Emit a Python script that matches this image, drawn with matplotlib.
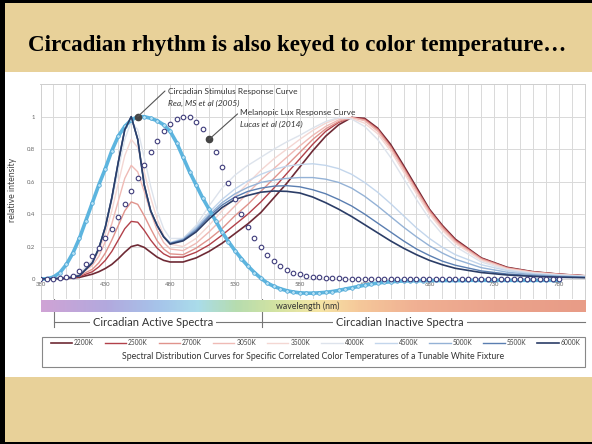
import numpy as np
import matplotlib
matplotlib.use("Agg")
import matplotlib.pyplot as plt
from matplotlib.colors import LinearSegmentedColormap
from matplotlib.patches import Rectangle

plt.rcParams['font.family'] = ['Lato', 'DejaVu Sans']

# wavelength grid (nm) for the tunable white SPD curves
wl = [380, 400, 410, 420, 425, 430, 435, 440, 445, 450, 455, 460, 465, 470, 475, 480,
      490, 500, 510, 520, 530, 540, 550, 560, 570, 580, 590, 600, 610, 620, 630, 640,
      650, 660, 670, 680, 690, 700, 720, 740, 760, 780, 800]

cct_labels = ["2200K", "2500K", "2700K", "3050K", "3500K",
              "4000K", "4500K", "5000K", "5500K", "6000K"]

spd_2200 = [0, 0.003, 0.01, 0.03, 0.045, 0.065, 0.09, 0.125, 0.165, 0.20, 0.21, 0.195, 0.165, 0.135, 0.115, 0.105,
            0.105, 0.13, 0.17, 0.22, 0.28, 0.34, 0.41, 0.50, 0.59, 0.69, 0.79, 0.88, 0.95, 0.995, 0.99, 0.93,
            0.83, 0.70, 0.565, 0.43, 0.33, 0.245, 0.13, 0.072, 0.045, 0.03, 0.02]
spd_2500 = [0, 0.004, 0.015, 0.045, 0.075, 0.115, 0.17, 0.24, 0.31, 0.355, 0.35, 0.30, 0.24, 0.19, 0.155, 0.135,
            0.135, 0.165, 0.21, 0.27, 0.335, 0.40, 0.475, 0.56, 0.65, 0.74, 0.83, 0.91, 0.965, 0.995, 0.985, 0.925,
            0.82, 0.69, 0.555, 0.425, 0.325, 0.24, 0.128, 0.07, 0.044, 0.03, 0.02]
spd_2700 = [0, 0.005, 0.02, 0.06, 0.10, 0.16, 0.24, 0.33, 0.42, 0.475, 0.46, 0.39, 0.31, 0.235, 0.185, 0.155,
            0.15, 0.19, 0.245, 0.31, 0.39, 0.46, 0.54, 0.62, 0.70, 0.78, 0.86, 0.925, 0.97, 0.995, 0.98, 0.92,
            0.815, 0.685, 0.55, 0.42, 0.32, 0.235, 0.125, 0.068, 0.043, 0.029, 0.019]
spd_3050 = [0, 0.006, 0.025, 0.085, 0.14, 0.23, 0.34, 0.48, 0.62, 0.70, 0.66, 0.54, 0.41, 0.30, 0.225, 0.185,
            0.175, 0.22, 0.29, 0.37, 0.45, 0.53, 0.61, 0.68, 0.75, 0.82, 0.885, 0.94, 0.98, 0.995, 0.975, 0.91,
            0.805, 0.675, 0.54, 0.41, 0.31, 0.228, 0.12, 0.065, 0.041, 0.028, 0.019]
spd_3500 = [0, 0.007, 0.03, 0.10, 0.17, 0.28, 0.42, 0.59, 0.76, 0.86, 0.81, 0.66, 0.50, 0.37, 0.27, 0.215,
            0.20, 0.25, 0.33, 0.42, 0.51, 0.59, 0.67, 0.74, 0.80, 0.86, 0.915, 0.96, 0.99, 0.99, 0.96, 0.895,
            0.79, 0.66, 0.525, 0.40, 0.30, 0.22, 0.115, 0.062, 0.039, 0.027, 0.018]
spd_4000 = [0, 0.008, 0.035, 0.115, 0.195, 0.32, 0.48, 0.67, 0.86, 0.97, 0.92, 0.75, 0.57, 0.42, 0.31, 0.25,
            0.25, 0.33, 0.45, 0.56, 0.64, 0.70, 0.75, 0.80, 0.845, 0.885, 0.93, 0.97, 0.995, 0.985, 0.94, 0.86,
            0.75, 0.62, 0.49, 0.37, 0.275, 0.20, 0.105, 0.057, 0.036, 0.025, 0.017]
spd_4500 = [0, 0.005, 0.02, 0.10, 0.19, 0.32, 0.50, 0.72, 0.92, 1.0, 0.86, 0.58, 0.42, 0.33, 0.26, 0.225,
            0.25, 0.32, 0.41, 0.49, 0.555, 0.605, 0.645, 0.675, 0.695, 0.705, 0.71, 0.70, 0.68, 0.645, 0.595, 0.535,
            0.465, 0.39, 0.315, 0.25, 0.195, 0.15, 0.088, 0.052, 0.033, 0.022, 0.015]
spd_5000 = [0, 0.005, 0.02, 0.10, 0.19, 0.32, 0.50, 0.72, 0.92, 1.0, 0.86, 0.58, 0.42, 0.33, 0.26, 0.22,
            0.245, 0.31, 0.395, 0.47, 0.525, 0.565, 0.595, 0.61, 0.62, 0.625, 0.625, 0.615, 0.595, 0.56, 0.51, 0.45,
            0.385, 0.32, 0.26, 0.205, 0.16, 0.122, 0.07, 0.042, 0.027, 0.018, 0.012]
spd_5500 = [0, 0.005, 0.02, 0.10, 0.19, 0.32, 0.50, 0.72, 0.92, 1.0, 0.86, 0.58, 0.42, 0.33, 0.26, 0.22,
            0.24, 0.30, 0.385, 0.455, 0.505, 0.54, 0.56, 0.572, 0.575, 0.568, 0.55, 0.525, 0.49, 0.45, 0.40, 0.345,
            0.29, 0.235, 0.185, 0.145, 0.11, 0.085, 0.05, 0.031, 0.02, 0.014, 0.01]
spd_6000 = [0, 0.005, 0.02, 0.10, 0.19, 0.32, 0.50, 0.72, 0.92, 1.0, 0.86, 0.58, 0.42, 0.33, 0.26, 0.215,
            0.235, 0.29, 0.37, 0.44, 0.49, 0.515, 0.535, 0.542, 0.54, 0.53, 0.505, 0.47, 0.43, 0.385, 0.335, 0.285,
            0.235, 0.19, 0.15, 0.115, 0.088, 0.066, 0.04, 0.025, 0.016, 0.011, 0.008]

# response curves, 5 nm steps 380-780
resp_wl = list(range(380, 781, 5))
rea_cs = [0.0, 0.002, 0.012, 0.04, 0.09, 0.16, 0.25, 0.36, 0.47, 0.58,
          0.68, 0.79, 0.88, 0.94, 0.98, 1.0, 1.0, 0.99, 0.975, 0.95,
          0.91, 0.84, 0.75, 0.66, 0.58, 0.50, 0.43, 0.36, 0.29, 0.23,
          0.175, 0.125, 0.08, 0.04, 0.005, -0.025, -0.045, -0.06, -0.072, -0.08,
          -0.085, -0.087, -0.087, -0.085, -0.082, -0.077, -0.07, -0.062, -0.054, -0.046,
          -0.038, -0.031, -0.025, -0.02, -0.017, -0.014, -0.012, -0.011, -0.01, -0.01,
          -0.009, -0.009, -0.009, -0.009, -0.009, -0.009, -0.008, -0.008, -0.008, -0.008,
          -0.008, -0.008, -0.008, -0.008, -0.008, -0.008, -0.008, -0.008, -0.008, -0.008,
          -0.008]
melanopic = [0.0, 0.0, 0.002, 0.005, 0.01, 0.02, 0.05, 0.09, 0.14, 0.19,
             0.25, 0.31, 0.38, 0.46, 0.54, 0.62, 0.70, 0.78, 0.85, 0.91,
             0.955, 0.985, 1.0, 0.995, 0.97, 0.925, 0.86, 0.78, 0.69, 0.59,
             0.49, 0.40, 0.32, 0.255, 0.20, 0.15, 0.11, 0.08, 0.058, 0.04,
             0.028, 0.02, 0.014, 0.01, 0.007, 0.005, 0.004, 0.003, 0.002, 0.002,
             0.001, 0.001, 0.001, 0.001, 0.0, 0.0, 0.0, 0.0, 0.0, 0.0,
             0.0, 0.0, 0.0, 0.0, 0.0, 0.0, 0.0, 0.0, 0.0, 0.0,
             0.0, 0.0, 0.0, 0.0, 0.0, 0.0, 0.0, 0.0, 0.0, 0.0,
             0.0]

xtick_vals = [380, 430, 480, 530, 580, 630, 680, 730, 780]
ytick_vals = [0, 0.2, 0.4, 0.6, 0.8, 1.0]
ytick_labels = ["0", "0.2", "0.4", "0.6", "0.8", "1"]

spd_all = [spd_2200, spd_2500, spd_2700, spd_3050, spd_3500,
           spd_4000, spd_4500, spd_5000, spd_5500, spd_6000]
cct_colors = ['#6e2a35', '#b2414a', '#e0938c', '#efbab5', '#f4d7d3',
              '#dde3ec', '#c3d6ec', '#94b2d6', '#5a7eb1', '#2b3d67']

W, H = 592, 444
parchment = '#e8d199'


def fx(px):
    return px / W


def fy(py):
    return 1 - py / H


fig = plt.figure(figsize=(W / 100, H / 100), dpi=100, facecolor=parchment)

# slide background in pixel coordinates
bg = fig.add_axes([0, 0, 1, 1])
bg.set_xlim(0, W)
bg.set_ylim(H, 0)
bg.axis('off')
bg.add_patch(Rectangle((0, 72), W, 305, facecolor='white', edgecolor='none'))
bg.add_patch(Rectangle((0, 0), 5, H, facecolor='black', edgecolor='none'))
bg.add_patch(Rectangle((0, 0), W, 3, facecolor='black', edgecolor='none'))
bg.add_patch(Rectangle((0, H - 2), W, 2, facecolor='black', edgecolor='none'))
bg.text(297, 45, "Circadian rhythm is also keyed to color temperature…",
        ha='center', va='center', fontsize=16.6, fontweight='bold',
        family=['Liberation Serif', 'DejaVu Serif'], color='black')

# main plot
ax = fig.add_axes([fx(40.5), fy(299), fx(585 - 40.5), (299 - 84.2) / H])
ax.set_xlim(380, 800)
ax.set_ylim(-0.123, 1.2)
ax.set_xticks(xtick_vals)
ax.set_xticks(np.arange(380, 801, 10), minor=True)
ax.set_yticks(ytick_vals)
ax.set_yticklabels(ytick_labels)
ax.set_yticks([1.2], minor=True)
ax.grid(True, which='both', color='#d9d9d9', lw=0.7)
ax.set_axisbelow(True)
ax.tick_params(axis='x', which='both', length=0, pad=-12, labelsize=4.3, labelcolor='#666')
ax.tick_params(axis='y', which='both', length=0, pad=4, labelsize=4.3, labelcolor='#666')
for s in ax.spines.values():
    s.set_color('#cfcfcf')
    s.set_linewidth(0.7)
ax.spines['bottom'].set_visible(False)
ax.set_ylabel("relative intensity", fontsize=6.3, color='#444')
ax.yaxis.set_label_coords(-0.043, 0.51)

lines = []
for vals, col, lab in zip(spd_all, cct_colors, cct_labels):
    z = 3.5 if lab == "6000K" else 2
    lw = 1.2 if lab in ("2200K", "6000K") else 1.0
    ln, = ax.plot(wl, vals, color=col, lw=lw, label=lab, zorder=z)
    lines.append(ln)

ax.plot(resp_wl, rea_cs, color='#5db5df', lw=2.6, marker='o', ms=2.6,
        mfc='#b5e1f5', mec='#4aa3d3', mew=0.5, zorder=3)
ax.plot(resp_wl, melanopic, ls='none', marker='o', ms=3.3, mfc='white',
        mec='#3f3d7c', mew=0.8, zorder=4)

# annotation dots taken from the curves
i_rea = rea_cs.index(max(rea_cs))
i_mel = resp_wl.index(510)
ax.plot(resp_wl[i_rea], rea_cs[i_rea], 'o', ms=4.5, color='#444', zorder=6)
ax.plot(resp_wl[i_mel], melanopic[i_mel], 'o', ms=4.5, color='#444', zorder=6)
ax.annotate("", xy=(resp_wl[i_rea], rea_cs[i_rea]), xytext=(476, 1.158),
            arrowprops=dict(arrowstyle='-', color='#555', lw=0.8, shrinkA=0, shrinkB=0), zorder=6)
ax.annotate("", xy=(resp_wl[i_mel], melanopic[i_mel]), xytext=(532, 1.017),
            arrowprops=dict(arrowstyle='-', color='#555', lw=0.8, shrinkA=0, shrinkB=0), zorder=6)
ax.text(478.5, 1.152, "Circadian Stimulus Response Curve", fontsize=6, color='#333', va='center')
ax.text(478.5, 1.084, "Rea, MS et al (2005)", fontsize=6, style='italic', color='#333', va='center')
ax.text(534, 1.023, "Melanopic Lux Response Curve", fontsize=6, color='#333', va='center')
ax.text(534, 0.955, "Lucas et al (2014)", fontsize=6, style='italic', color='#333', va='center')

# wavelength colour bar
spectrum_stops = [(380, '#cfa3d5'), (430, '#b2a9de'), (470, '#a6c4ea'), (500, '#aadcea'),
                  (530, '#b6dcaf'), (560, '#d2e3a2'), (595, '#f6e5a5'), (625, '#f5c89a'),
                  (670, '#f0b093'), (730, '#eba38c'), (800, '#e89c87')]
cmap = LinearSegmentedColormap.from_list(
    'spec', [((w - 380) / 420, c) for w, c in spectrum_stops])
axb = fig.add_axes([fx(40.5), fy(312), fx(585 - 40.5), 12 / H])
axb.imshow(np.linspace(380, 800, 421)[None, :], extent=[380, 800, 0, 1], aspect='auto',
           cmap=cmap, vmin=380, vmax=800)
axb.set_xlim(380, 800)
axb.axis('off')
axb.text(586, 0.5, "wavelength (nm)", ha='center', va='center', fontsize=6.3, color='#333')

# active / inactive bracket
bg.plot([53.5, 53.5], [276, 327], color='#777', lw=0.8)
bg.plot([261.7, 261.7], [270, 327], color='#777', lw=0.8)
bg.plot([53.5, 585], [322, 322], color='#777', lw=0.8)
bg.text(153, 322, "Circadian Active Spectra", ha='center', va='center', fontsize=8,
        color='#333', bbox=dict(facecolor='white', edgecolor='none', pad=2))
bg.text(400, 322, "Circadian Inactive Spectra", ha='center', va='center', fontsize=8,
        color='#333', bbox=dict(facecolor='white', edgecolor='none', pad=2))

# legend box
bg.add_patch(Rectangle((41.7, 337), 543.3, 30, facecolor='none', edgecolor='#888', lw=0.8))
fig.legend(handles=lines, labels=cct_labels, loc='center', bbox_to_anchor=(fx(315.5), fy(342.5)),
           ncol=10, frameon=False, fontsize=4.8, handlelength=3.2, handletextpad=0.3,
           columnspacing=1.65, labelcolor='#444')
bg.text(313.4, 356.5,
        "Spectral Distribution Curves for Specific Correlated Color Temperatures of a Tunable White Fixture",
        ha='center', va='center', fontsize=6.3, color='#333')

fig.savefig("out.png", dpi=100, facecolor=parchment)
